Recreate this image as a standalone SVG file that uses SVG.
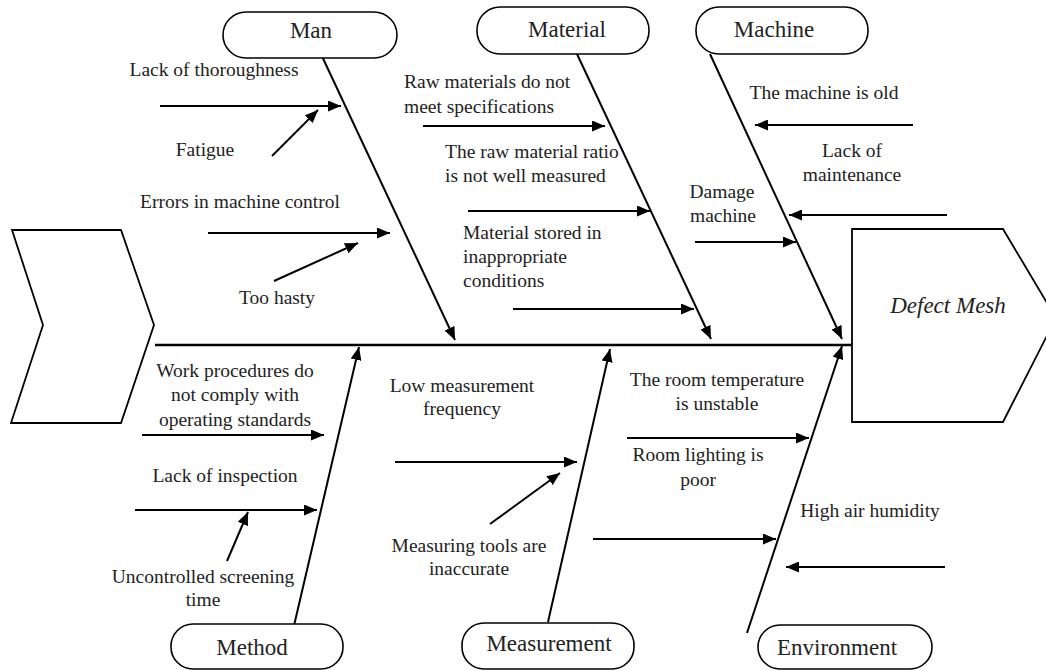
<svg xmlns="http://www.w3.org/2000/svg" width="1046" height="670" viewBox="0 0 1046 670">
<defs>
<marker id="ah" markerUnits="userSpaceOnUse" markerWidth="13" markerHeight="11" refX="13" refY="5.5" orient="auto">
<path d="M0,0 L13,5.5 L0,11 z" fill="#000"/>
</marker>
<style>
.cat{fill:#fff;stroke:#000;stroke-width:1.6}
.ct{font-family:"Liberation Serif","Times New Roman",serif;font-size:23px;fill:#222;text-anchor:middle}
.lb{font-family:"Liberation Serif","Times New Roman",serif;font-size:19.5px;fill:#222}
.m{text-anchor:middle}
.ar{stroke:#000;stroke-width:2;fill:none;marker-end:url(#ah)}
.bone{stroke:#000;stroke-width:2;fill:none;marker-end:url(#ah)}
.shape{fill:#fff;stroke:#000;stroke-width:1.8}
</style>
</defs>
<rect width="1046" height="670" fill="#fff"/>

<g id="tail"><path class="shape" d="M12,230 L121,230 L154,325 L121,423 L11,423 L43,325 Z" fill="#fdfdfd"/></g>
<g id="head"><path class="shape" d="M852,229 L1003,229 L1056,318 L1003,422 L852,422 Z"/>
<text x="948" y="313" class="ct" style="font-style:italic">Defect Mesh</text></g>

<g id="connectors">
<line x1="155" y1="345" x2="852" y2="345" stroke="#000" stroke-width="2.5"/>
<line class="bone" x1="320" y1="52" x2="455" y2="340"/>
<line class="bone" x1="577" y1="54" x2="711" y2="339"/>
<line class="bone" x1="710" y1="54" x2="842" y2="339"/>
<line class="bone" x1="293" y1="630" x2="359" y2="347"/>
<line class="bone" x1="548" y1="622" x2="610" y2="349"/>
<line class="bone" x1="747" y1="633" x2="842" y2="346"/>
<line class="ar" x1="160" y1="106" x2="341" y2="106"/>
<line class="ar" x1="272" y1="156" x2="318" y2="110"/>
<line class="ar" x1="208" y1="233" x2="390" y2="233"/>
<line class="ar" x1="274" y1="281" x2="358" y2="243"/>
<line class="ar" x1="423" y1="126" x2="605" y2="126"/>
<line class="ar" x1="468" y1="211" x2="650" y2="211"/>
<line class="ar" x1="513" y1="309" x2="694" y2="309"/>
<line class="ar" x1="913" y1="125" x2="755" y2="125"/>
<line class="ar" x1="947" y1="215" x2="789" y2="215"/>
<line class="ar" x1="695" y1="242" x2="796" y2="242"/>
<line class="ar" x1="142" y1="435" x2="324" y2="435"/>
<line class="ar" x1="135" y1="510" x2="317" y2="510"/>
<line class="ar" x1="227" y1="561" x2="248" y2="512"/>
<line class="ar" x1="395" y1="462" x2="577" y2="462"/>
<line class="ar" x1="490" y1="524" x2="560" y2="473"/>
<line class="ar" x1="627" y1="438" x2="809" y2="438"/>
<line class="ar" x1="593" y1="539" x2="776" y2="539"/>
<line class="ar" x1="945" y1="567" x2="786" y2="567"/>
</g>

<g id="man"><rect class="cat" x="223" y="12" width="174" height="46" rx="23"/><text class="ct" x="311" y="38">Man</text></g>
<g id="material"><rect class="cat" x="477" y="7" width="172" height="47" rx="23"/><text class="ct" x="567" y="37">Material</text></g>
<g id="machine"><rect class="cat" x="696" y="7" width="172" height="47" rx="23"/><text class="ct" x="774" y="37">Machine</text></g>
<g id="method"><rect class="cat" x="171" y="624" width="172" height="45" rx="22"/><text class="ct" x="252" y="655">Method</text></g>
<g id="measurement"><rect class="cat" x="462" y="623" width="172" height="46" rx="22"/><text class="ct" x="549" y="651">Measurement</text></g>
<g id="environment"><rect class="cat" x="758" y="625" width="174" height="44" rx="22"/><text class="ct" x="837" y="655">Environment</text></g>

<g id="man-causes">
<text class="lb m" x="214" y="76">Lack of thoroughness</text>
<text class="lb m" x="205" y="156">Fatigue</text>
<text class="lb m" x="240" y="208">Errors in machine control</text>
<text class="lb m" x="277" y="304">Too hasty</text>
</g>
<g id="material-causes">
<text class="lb" x="404" y="88">Raw materials do not</text>
<text class="lb" x="404" y="113">meet specifications</text>
<text class="lb" x="445" y="158">The raw material ratio</text>
<text class="lb" x="445" y="182">is not well measured</text>
<text class="lb" x="463" y="239">Material stored in</text>
<text class="lb" x="463" y="263">inappropriate</text>
<text class="lb" x="463" y="287">conditions</text>
</g>
<g id="machine-causes">
<text class="lb m" x="824" y="99">The machine is old</text>
<text class="lb m" x="852" y="157">Lack of</text>
<text class="lb m" x="852" y="181">maintenance</text>
<text class="lb m" x="722" y="198">Damage</text>
<text class="lb m" x="723" y="222">machine</text>
</g>
<g id="method-causes">
<text class="lb m" x="235" y="377">Work procedures do</text>
<text class="lb m" x="235" y="401">not comply with</text>
<text class="lb m" x="235" y="426">operating standards</text>
<text class="lb m" x="225" y="482">Lack of inspection</text>
<text class="lb m" x="203" y="583">Uncontrolled screening</text>
<text class="lb m" x="203" y="606">time</text>
</g>
<g id="measurement-causes">
<text class="lb m" x="462" y="392">Low measurement</text>
<text class="lb m" x="462" y="415">frequency</text>
<text class="lb m" x="469" y="552">Measuring tools are</text>
<text class="lb m" x="469" y="575">inaccurate</text>
</g>
<g id="environment-causes">
<text class="lb m" x="717" y="386">The room temperature</text>
<text class="lb m" x="717" y="410">is unstable</text>
<text class="lb m" x="698" y="461">Room lighting is</text>
<text class="lb m" x="698" y="486">poor</text>
<text class="lb m" x="870" y="517">High air humidity</text>
</g>
</svg>
